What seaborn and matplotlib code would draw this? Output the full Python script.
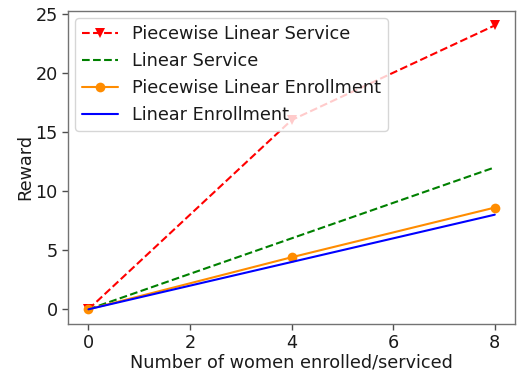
import matplotlib
matplotlib.use("Agg")
import matplotlib.pyplot as plt
import seaborn as sns
import pandas as pd

# Number of women enrolled/serviced
women = [0, 4, 8]
piecewise_service = [0, 16, 24]
linear_service = [0, 6, 12]
piecewise_enrollment = [0, 4.4, 8.6]
linear_enrollment = [0, 4, 8]

sns.set_style("ticks")
plt.rcParams["font.family"] = ["DejaVu Sans"]
plt.rcParams["text.color"] = "0.1"
plt.rcParams["axes.labelcolor"] = "0.1"
plt.rcParams["xtick.color"] = "0.1"
plt.rcParams["ytick.color"] = "0.1"

fig, ax = plt.subplots(figsize=(5.24, 3.74), dpi=100)

df = pd.DataFrame({"x": women,
                   "ps": piecewise_service,
                   "ls": linear_service,
                   "pe": piecewise_enrollment,
                   "le": linear_enrollment})

sns.lineplot(data=df, x="x", y="ps", ax=ax, color="red", linestyle="--",
             marker="v", markersize=7, markeredgewidth=0,
             label="Piecewise Linear Service")
sns.lineplot(data=df, x="x", y="ls", ax=ax, color="green", linestyle="--",
             label="Linear Service")
sns.lineplot(data=df, x="x", y="pe", ax=ax, color="darkorange",
             marker="o", markersize=7, markeredgewidth=0,
             label="Piecewise Linear Enrollment")
sns.lineplot(data=df, x="x", y="le", ax=ax, color="blue",
             label="Linear Enrollment")

fs = 12.7
ax.set_xlabel("Number of women enrolled/serviced", fontsize=fs, labelpad=1)
ax.set_ylabel("Reward", fontsize=fs, labelpad=1)
ax.set_xticks([0, 2, 4, 6, 8])
ax.set_yticks([0, 5, 10, 15, 20, 25])
ax.tick_params(labelsize=fs, color="0.3", length=4, width=1)
for s in ax.spines.values():
    s.set_color("0.45")
    s.set_linewidth(1.0)

leg = ax.legend(loc="upper left", fontsize=fs, frameon=True,
                borderaxespad=0.4, handlelength=2.0)

fig.subplots_adjust(left=0.13, right=0.983, top=0.97, bottom=0.135)
fig.savefig("out.png", dpi=100)
